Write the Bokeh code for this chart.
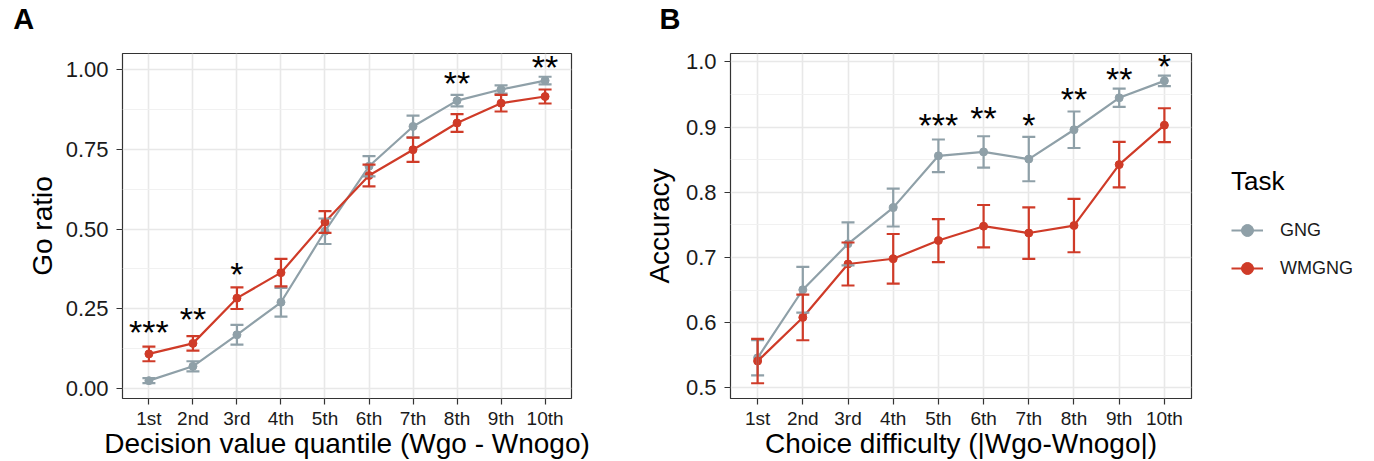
from bokeh.plotting import figure
from bokeh.models import (FixedTicker, Range1d, Whisker, ColumnDataSource, Legend,
                          LegendItem, TeeHead, Title)
from bokeh.layouts import row
from bokeh.core.properties import value
from bokeh.embed import file_html
from bokeh.resources import INLINE

# ---------------- data ----------------
quantile = [1, 2, 3, 4, 5, 6, 7, 8, 9, 10]
tick_labels = ["1st", "2nd", "3rd", "4th", "5th", "6th", "7th", "8th", "9th", "10th"]
series_names = ["GNG", "WMGNG"]

a_gng = [0.024, 0.069, 0.168, 0.270, 0.493, 0.697, 0.822, 0.903, 0.938, 0.966]
a_gng_se = [0.008, 0.016, 0.031, 0.045, 0.040, 0.032, 0.034, 0.018, 0.013, 0.012]
a_wm = [0.108, 0.141, 0.283, 0.363, 0.522, 0.668, 0.749, 0.833, 0.895, 0.916]
a_wm_se = [0.023, 0.023, 0.034, 0.043, 0.034, 0.034, 0.038, 0.028, 0.026, 0.022]
a_star_x = [1, 2, 3, 8, 10]
a_star_y = [0.193, 0.233, 0.373, 0.975, 1.023]
a_star_text = ["***", "**", "*", "**", "**"]
a_yticks = [0.0, 0.25, 0.5, 0.75, 1.0]
a_ytick_labels = ["0.00", "0.25", "0.50", "0.75", "1.00"]
a_yminor = [0.125, 0.375, 0.625, 0.875]

b_gng = [0.546, 0.6505, 0.721, 0.7765, 0.856, 0.862, 0.851, 0.896, 0.945, 0.971]
b_gng_se = [0.027, 0.035, 0.033, 0.029, 0.025, 0.024, 0.034, 0.028, 0.014, 0.008]
b_wm = [0.541, 0.608, 0.690, 0.698, 0.726, 0.748, 0.7375, 0.749, 0.8425, 0.903]
b_wm_se = [0.034, 0.035, 0.033, 0.038, 0.033, 0.0325, 0.0395, 0.041, 0.035, 0.026]
b_star_x = [5, 6, 7, 8, 9, 10]
b_star_y = [0.9106, 0.922, 0.9117, 0.9516, 0.981, 1.001]
b_star_text = ["***", "**", "*", "**", "**", "*"]
b_yticks = [0.5, 0.6, 0.7, 0.8, 0.9, 1.0]
b_ytick_labels = ["0.5", "0.6", "0.7", "0.8", "0.9", "1.0"]
b_yminor = [0.55, 0.65, 0.75, 0.85, 0.95]

GRAY = "#8FA0A8"
RED = "#CF3B28"
FONT = "Liberation Sans"
H = 461


def make_panel(letter, gng, gng_se, wm, wm_se, sx, sy, st, yticks, ylabels, yminor,
               yrange, xlabel, ylabel, width, mb_left, mb_right, ylab_standoff, letter_off):
    p = figure(width=width, height=H, output_backend="svg", toolbar_location=None,
               x_range=Range1d(0.4, 10.6), y_range=Range1d(*yrange),
               min_border_left=mb_left, min_border_right=mb_right,
               min_border_top=53, min_border_bottom=H - 398)
    p.background_fill_color = "white"
    p.border_fill_color = "white"
    p.outline_line_color = "#333333"
    p.outline_line_width = 1.2

    # spacer title next to the frame, then the panel letter further out
    p.add_layout(Title(text=" ", text_font=FONT, text_font_size="16px", standoff=0,
                       align="left"), "above")
    p.add_layout(Title(text=letter, text_font=FONT, text_font_size="29px",
                       text_font_style="bold", text_color="black", align="left",
                       offset=letter_off, vertical_align="bottom", standoff=0), "above")

    p.xaxis.ticker = FixedTicker(ticks=quantile)
    p.xaxis.major_label_overrides = {q: t for q, t in zip(quantile, tick_labels)}
    p.yaxis.ticker = FixedTicker(ticks=yticks, minor_ticks=yminor)
    p.yaxis.major_label_overrides = {t: l for t, l in zip(yticks, ylabels)}

    for ax in (p.xaxis[0], p.yaxis[0]):
        ax.axis_line_color = None
        ax.major_tick_line_color = "#333333"
        ax.major_tick_line_width = 1.2
        ax.major_tick_out = 6
        ax.major_tick_in = 0
        ax.minor_tick_line_color = None
        ax.major_label_text_font = FONT
        ax.major_label_text_color = "#1A1A1A"
        ax.axis_label_text_font = FONT
        ax.axis_label_text_font_size = "28px"
        ax.axis_label_text_font_style = "normal"
        ax.axis_label_text_color = "black"
    p.xaxis.major_label_text_font_size = "19px"
    p.yaxis.major_label_text_font_size = "22px"
    p.xaxis.major_label_standoff = 3
    p.yaxis.major_label_standoff = 8
    p.xaxis.axis_label = xlabel
    p.yaxis.axis_label = ylabel
    p.xaxis.axis_label_standoff = -4
    p.xaxis.axis_label_text_line_height = 0.9
    p.xaxis.major_label_text_line_height = 0.9
    p.yaxis.axis_label_standoff = ylab_standoff

    p.xgrid.ticker = FixedTicker(ticks=quantile)
    p.grid.grid_line_color = "#E8E8E8"
    p.grid.grid_line_width = 1.6
    p.ygrid.minor_grid_line_color = "#EFEFEF"
    p.ygrid.minor_grid_line_width = 0.9

    for name, mean, se, color in ((series_names[0], gng, gng_se, GRAY),
                                  (series_names[1], wm, wm_se, RED)):
        src = ColumnDataSource(dict(x=quantile, y=mean,
                                    lo=[m - s for m, s in zip(mean, se)],
                                    hi=[m + s for m, s in zip(mean, se)]))
        p.line("x", "y", source=src, line_color=color, line_width=2.2)
        p.scatter("x", "y", source=src, size=8, fill_color=color, line_color=color)
        wh = Whisker(base="x", lower="lo", upper="hi", source=src, dimension="height",
                     line_color=color, line_width=2.2, level="glyph",
                     upper_head=TeeHead(size=13, line_color=color, line_width=2.2),
                     lower_head=TeeHead(size=13, line_color=color, line_width=2.2))
        p.add_layout(wh)

    ssrc = ColumnDataSource(dict(x=sx, y=sy, t=st))
    p.text("x", "y", text="t", source=ssrc, text_font=value(FONT), text_font_size="34px",
           text_align="center", text_baseline="alphabetic", y_offset=5, text_color="black")
    return p


pa = make_panel("A", a_gng, a_gng_se, a_wm, a_wm_se, a_star_x, a_star_y, a_star_text,
                a_yticks, a_ytick_labels, a_yminor, (-0.032, 1.051),
                "Decision value quantile (Wgo - Wnogo)", "Go ratio", 640, 122, 69,
                5, 12.7 - 122)
pb = make_panel("B", b_gng, b_gng_se, b_wm, b_wm_se, b_star_x, b_star_y, b_star_text,
                b_yticks, b_ytick_labels, b_yminor, (0.4836, 1.013),
                "Choice difficulty (|Wgo-Wnogo|)", "Accuracy", 554, 89, 3,
                8, 658 - 729)

# legend panel (its own figure; the key glyphs reuse the panel-B series, drawn out of view)
pl = figure(width=1374 - 640 - 554, height=H, output_backend="svg", toolbar_location=None,
            x_range=Range1d(100, 101), y_range=Range1d(100, 101),
            x_axis_location=None, y_axis_location=None,
            min_border_left=0, min_border_right=0, min_border_top=0, min_border_bottom=0)
pl.outline_line_color = None
pl.grid.visible = False
items = []
for name, mean, color in ((series_names[0], b_gng, GRAY), (series_names[1], b_wm, RED)):
    ln = pl.line(quantile, mean, line_color=color, line_width=2.2)
    pt = pl.scatter(quantile, mean, size=8, fill_color=color, line_color=color)
    items.append(LegendItem(label=name, renderers=[ln, pt]))

legend = Legend(items=items, title="Task", location=(1231 - 1194, 115),
                orientation="vertical")
legend.border_line_color = None
legend.background_fill_alpha = 0
legend.title_text_font = FONT
legend.title_text_font_size = "26px"
legend.title_text_font_style = "normal"
legend.title_text_color = "black"
legend.title_standoff = 18
legend.label_text_font = FONT
legend.label_text_font_size = "18px"
legend.label_text_color = "#1A1A1A"
legend.glyph_width = 32
legend.glyph_height = 30
legend.label_height = 30
legend.label_standoff = 17
legend.spacing = 8
legend.padding = 0
legend.margin = 0
pl.add_layout(legend, "center")

layout = row(pa, pb, pl)
open("out.html", "w").write(file_html(layout, INLINE))
